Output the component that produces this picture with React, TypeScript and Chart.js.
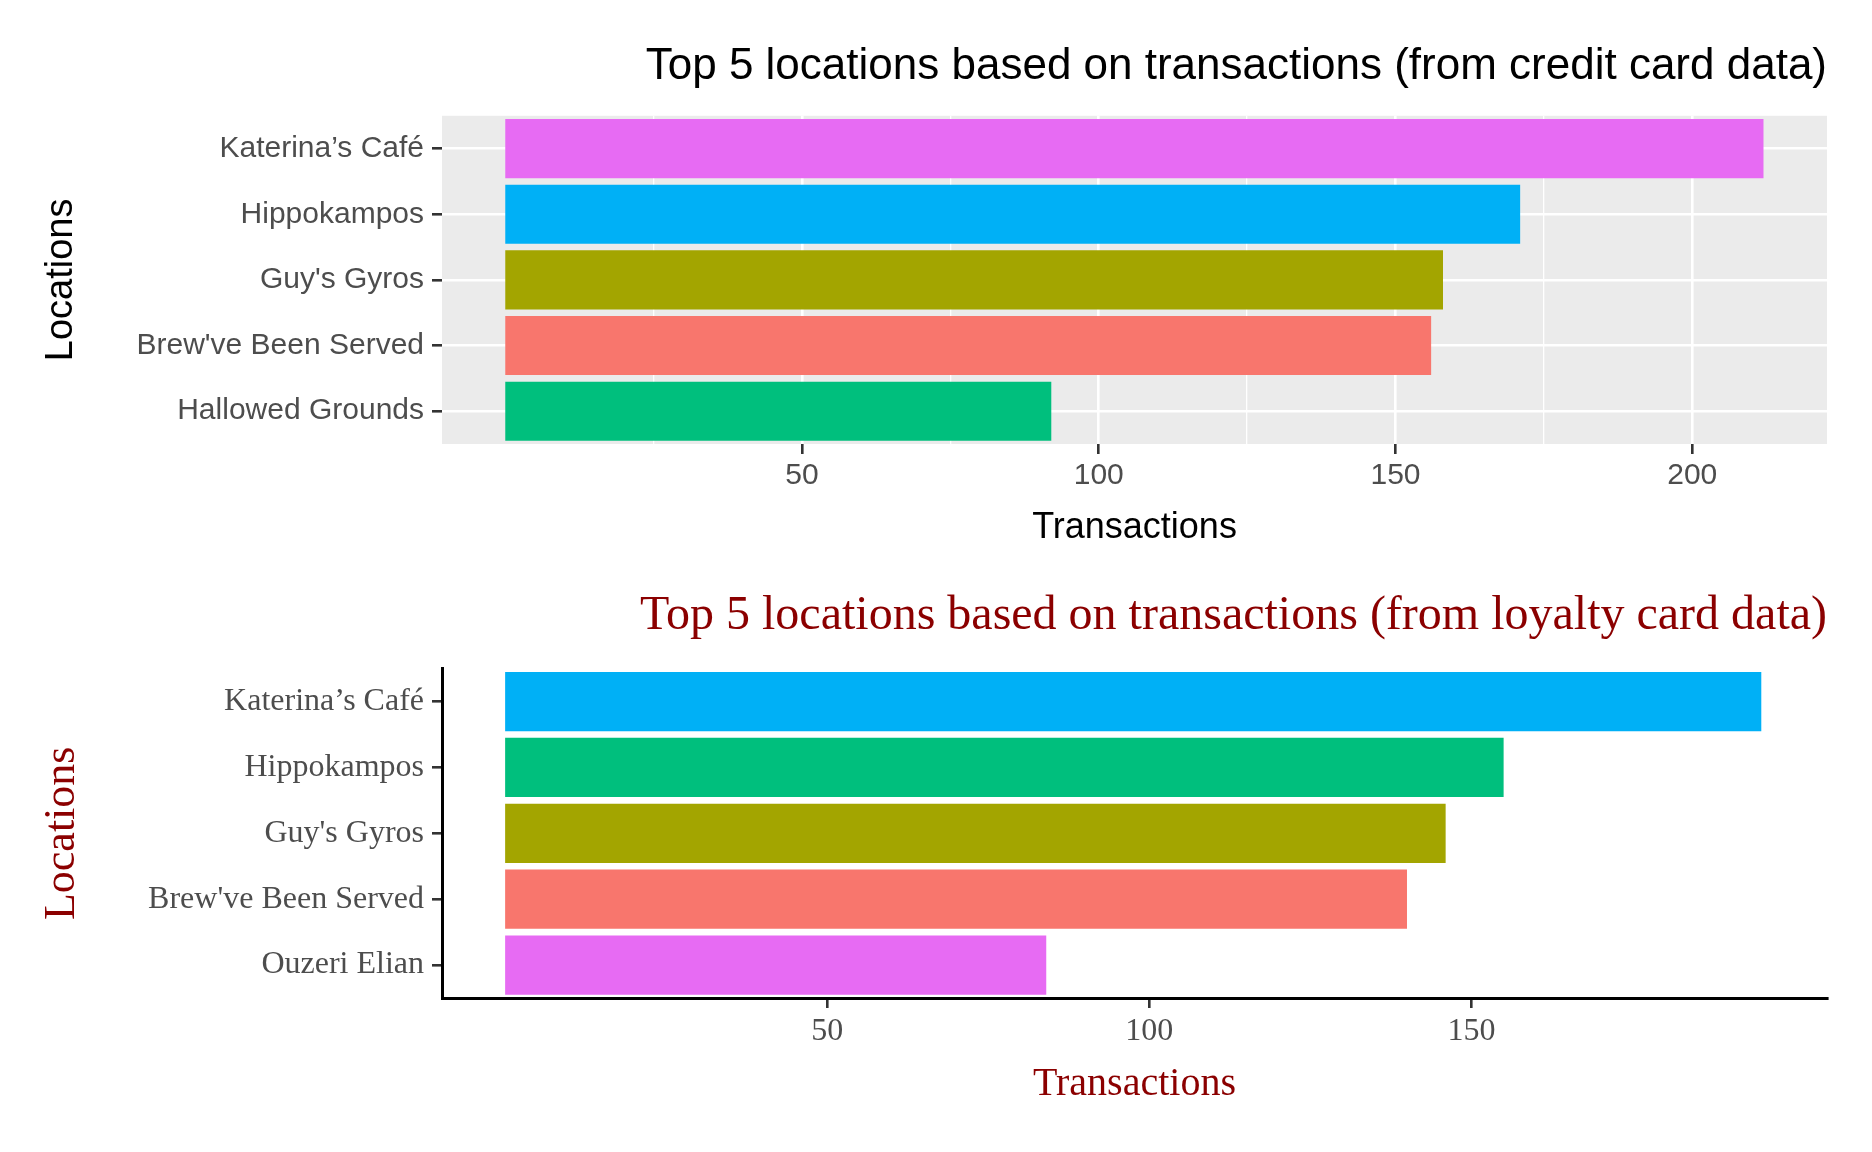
import { useEffect, useRef } from 'react';
import { Chart, registerables } from 'chart.js';

Chart.register(...registerables);

const creditLocations = ["Katerina\u2019s Caf\u00e9", 'Hippokampos', "Guy's Gyros", "Brew've Been Served", 'Hallowed Grounds'];
const creditValues = [212, 171, 158, 156, 92];
const creditColors = ['#E76BF3', '#00B0F6', '#A3A500', '#F8766D', '#00BF7D'];

const loyaltyLocations = ["Katerina\u2019s Caf\u00e9", 'Hippokampos', "Guy's Gyros", "Brew've Been Served", 'Ouzeri Elian'];
const loyaltyValues = [195, 155, 146, 140, 84];
const loyaltyColors = ['#00B0F6', '#00BF7D', '#A3A500', '#F8766D', '#E76BF3'];

const SANS = '"Liberation Sans", Arial, sans-serif';
const SERIF = '"Liberation Serif", "Times New Roman", serif';

const panelBg = {
  id: 'panelBg',
  beforeDraw(chart: any, _a: any, opts: any) {
    if (!opts.color) return;
    const { ctx, chartArea } = chart;
    ctx.save();
    ctx.fillStyle = opts.color;
    ctx.fillRect(chartArea.left, chartArea.top, chartArea.width, chartArea.height);
    ctx.restore();
  }
};

const keep25 = (scale: any) => {
  scale.ticks = scale.ticks.filter((t: any) => Math.abs(t.value % 25) < 1e-6);
};

const App = () => {
  const topRef = useRef<HTMLCanvasElement>(null);
  const botRef = useRef<HTMLCanvasElement>(null);

  useEffect(() => {
    if (!topRef.current || !botRef.current) return;

    const top = new Chart(topRef.current, {
      type: 'bar',
      plugins: [panelBg],
      data: {
        labels: creditLocations,
        datasets: [{ data: creditValues, backgroundColor: creditColors, borderWidth: 0, barPercentage: 1, categoryPercentage: 0.9 }]
      },
      options: {
        indexAxis: 'y',
        animation: false,
        responsive: false,
        layout: { padding: { right: 45, left: 0, top: 0, bottom: 0 } },
        plugins: {
          legend: { display: false },
          tooltip: { enabled: false },
          panelBg: { color: '#EBEBEB' },
          title: {
            display: true,
            text: 'Top 5 locations based on transactions (from credit card data)',
            align: 'end',
            color: '#000',
            font: { family: SANS, size: 44, weight: 'normal' },
            padding: { top: 40, bottom: 23 }
          }
        } as any,
        scales: {
          x: {
            type: 'linear',
            min: -10.66,
            max: 222.7,
            afterBuildTicks: keep25,
            afterFit: (s: any) => { s.height = 117; },
            ticks: {
              stepSize: 25,
              color: '#4D4D4D',
              padding: 4,
              font: { family: SANS, size: 30 },
              callback: (v: any) => (v % 50 === 0 ? String(v) : '')
            },
            grid: {
              color: '#FFFFFF',
              lineWidth: (c: any) => (c.tick && c.tick.value % 50 === 0 ? 2.6 : 1.3),
              tickColor: (c: any) => (c.tick && c.tick.value % 50 === 0 ? '#333333' : 'rgba(0,0,0,0)'),
              tickLength: 10
            },
            border: { display: false },
            title: {
              display: true,
              text: 'Transactions',
              color: '#000',
              font: { family: SANS, size: 36 },
              padding: { top: 4, bottom: 11 }
            }
          },
          y: {
            afterFit: (s: any) => { s.width = 442; },
            ticks: { color: '#4D4D4D', padding: 8, font: { family: SANS, size: 30 } },
            grid: { offset: false, color: '#FFFFFF', lineWidth: 2.6, tickColor: '#333333', tickLength: 10 },
            border: { display: false },
            title: {
              display: true,
              text: 'Locations',
              color: '#000',
              font: { family: SANS, size: 38 },
              padding: { top: 39, bottom: 39 }
            }
          }
        }
      } as any
    });

    const bot = new Chart(botRef.current, {
      type: 'bar',
      data: {
        labels: loyaltyLocations,
        datasets: [{ data: loyaltyValues, backgroundColor: loyaltyColors, borderWidth: 0, barPercentage: 1, categoryPercentage: 0.9 }]
      },
      options: {
        indexAxis: 'y',
        animation: false,
        responsive: false,
        layout: { padding: { right: 45, left: 0, top: 0, bottom: 0 } },
        plugins: {
          legend: { display: false },
          tooltip: { enabled: false },
          title: {
            display: true,
            text: 'Top 5 locations based on transactions (from loyalty card data)',
            align: 'end',
            color: '#8B0000',
            font: { family: SERIF, size: 48, weight: 'normal' },
            padding: { top: 27, bottom: 23 }
          }
        },
        scales: {
          x: {
            type: 'linear',
            min: -9.8,
            max: 205.2,
            afterBuildTicks: keep25,
            afterFit: (s: any) => { s.height = 154; },
            ticks: {
              stepSize: 50,
              color: '#4D4D4D',
              padding: 4,
              font: { family: SERIF, size: 32 },
              callback: (v: any) => (v % 50 === 0 ? String(v) : '')
            },
            grid: {
              drawOnChartArea: false,
              tickColor: (c: any) => (c.tick && c.tick.value % 50 === 0 ? '#333333' : 'rgba(0,0,0,0)'),
              lineWidth: 2.6,
              tickLength: 10
            },
            border: { display: true, color: '#000', width: 3 },
            title: {
              display: true,
              text: 'Transactions',
              color: '#8B0000',
              font: { family: SERIF, size: 40 },
              padding: { top: 4, bottom: 44 }
            }
          },
          y: {
            afterFit: (s: any) => { s.width = 442; },
            ticks: { color: '#4D4D4D', padding: 8, font: { family: SERIF, size: 32 } },
            grid: { offset: false, drawOnChartArea: false, tickColor: '#333333', lineWidth: 2.6, tickLength: 10 },
            border: { display: true, color: '#000', width: 3 },
            title: {
              display: true,
              text: 'Locations',
              color: '#8B0000',
              font: { family: SERIF, size: 44 },
              padding: { top: 36, bottom: 36 }
            }
          }
        }
      } as any
    });

    return () => {
      top.destroy();
      bot.destroy();
    };
  }, []);

  return (
    <div style={{ position: 'absolute', left: 0, top: 0, width: 1872, height: 1152, background: '#fff' }}>
      <canvas ref={topRef} width={1872} height={561} style={{ display: 'block', width: 1872, height: 561 }} />
      <canvas ref={botRef} width={1872} height={591} style={{ display: 'block', width: 1872, height: 591 }} />
    </div>
  );
};

export default App;
